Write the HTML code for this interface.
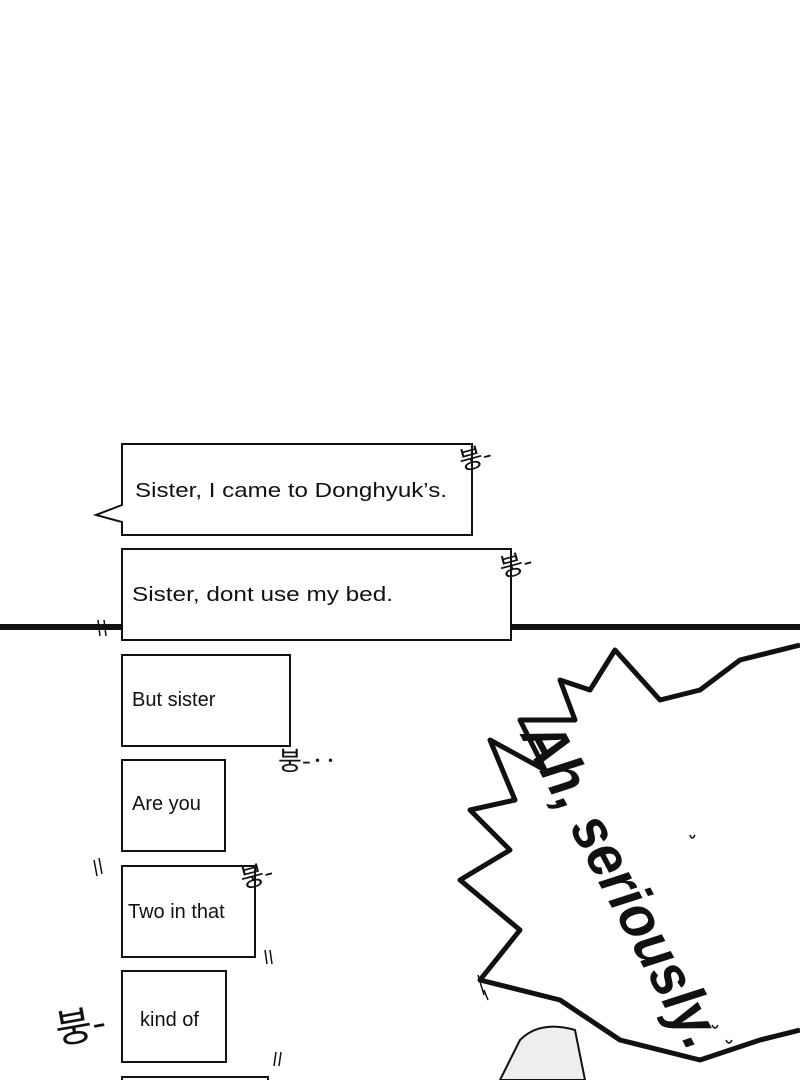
<!DOCTYPE html>
<html><head><meta charset="utf-8"><style>
html,body{margin:0;padding:0;background:#fff;width:800px;height:1080px;overflow:hidden}
svg{display:block}
text{font-family:"Liberation Sans",sans-serif;fill:#111}
</style></head><body>
<svg width="800" height="1080" viewBox="0 0 800 1080" xmlns="http://www.w3.org/2000/svg">
<rect width="800" height="1080" fill="#fff"/>
<line x1="0" y1="627" x2="800" y2="627" stroke="#111" stroke-width="6"/>
<path d="M98 620 L100 636 M104 620 L106 636" stroke="#111" stroke-width="1.5"/>
<path d="M800 645 L740 660 L700 690 L660 700 L615 650 L590 690 L560 680 L575 720 L520 720 L545 770 L490 740 L515 800 L470 810 L510 850 L460 880 L520 930 L480 980 L560 1000 L620 1040 L700 1060 L760 1040 L800 1030"
 fill="#fff" stroke="#111" stroke-width="5" stroke-linejoin="round"/>
<text x="0" y="0" font-size="60" font-style="italic" font-weight="bold" transform="translate(520 735) rotate(62)" style="font-family:'Liberation Sans',sans-serif" textLength="360" lengthAdjust="spacingAndGlyphs">Ah, seriously.</text>
<path d="M520 1040 Q540 1020 575 1030 L585 1080 L500 1080 Z" fill="#eee" stroke="#111" stroke-width="2"/>
<path d="M690 835 q2 6 5 0 M712 1025 q3 6 6 0 M726 1040 q3 6 6 0 M478 975 l6 20 M484 990 l4 10" stroke="#111" stroke-width="1.5" fill="none"/>
<g fill="#fff" stroke="#111" stroke-width="2">
<path d="M122 444 H472 V535 H122 V522 L96 515 L122 505 Z"/>
<rect x="122" y="549" width="389" height="91"/>
<rect x="122" y="655" width="168" height="91"/>
<rect x="122" y="760" width="103" height="91"/>
<rect x="122" y="866" width="133" height="91"/>
<rect x="122" y="971" width="104" height="91"/>
<rect x="122" y="1077" width="146" height="10"/>
</g>
<g font-size="20">
<text x="135" y="497" textLength="312" lengthAdjust="spacingAndGlyphs">Sister, I came to Donghyuk’s.</text>
<text x="132" y="601" textLength="261" lengthAdjust="spacingAndGlyphs">Sister, dont use my bed.</text>
<text x="132" y="706">But sister</text>
<text x="132" y="810">Are you</text>
<text x="128" y="918">Two in that</text>
<text x="140" y="1026">kind of</text>
</g>
<g style="font-family:'Liberation Sans','Noto Sans CJK KR',sans-serif">
<text x="458" y="468" font-size="26" transform="rotate(-15 470 455)" style="font-family:'Noto Sans CJK KR',sans-serif">붕-</text>
<text x="498" y="575" font-size="26" transform="rotate(-15 510 560)" style="font-family:'Noto Sans CJK KR',sans-serif">붕-</text>
<text x="278" y="770" font-size="26" style="font-family:'Noto Sans CJK KR',sans-serif">붕-‥</text>
<text x="240" y="885" font-size="26" transform="rotate(-15 255 875)" style="font-family:'Noto Sans CJK KR',sans-serif">붕-</text>
<text x="55" y="1040" font-size="40" transform="rotate(-10 80 1025)" style="font-family:'Noto Sans CJK KR',sans-serif">붕-</text>
</g>
<path d="M94 860 l3 16 M99 858 l3 16 M265 950 l2 14 M270 950 l2 14 M276 1052 l-2 14 M281 1052 l-2 14" stroke="#111" stroke-width="1.5"/>
</svg>
</body></html>
